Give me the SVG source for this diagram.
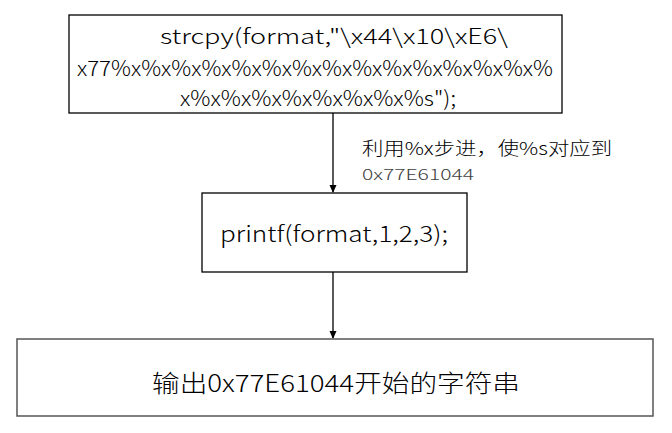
<svg xmlns="http://www.w3.org/2000/svg" width="672" height="433" viewBox="0 0 672 433">
<style>
.box{fill:#fff;stroke:#000;stroke-width:1.3}
.t{font-family:"Noto Sans CJK SC","Noto Sans",sans-serif;fill:#000;font-weight:300}
.c{stroke:#000;stroke-width:1.3;fill:none}
</style>
<defs>
<marker id="ah" markerWidth="8" markerHeight="8" refX="7" refY="4" orient="auto" markerUnits="userSpaceOnUse">
<path d="M0,0.5 L8,4 L0,7.5 Z" fill="#000"/>
</marker>
</defs>
<rect width="672" height="433" fill="#fff"/>
<g id="connectors">
<line class="c" x1="333" y1="113" x2="333" y2="192" marker-end="url(#ah)"/>
<line class="c" x1="333" y1="272" x2="333" y2="338" marker-end="url(#ah)"/>
<text class="t" x="362" y="155" font-size="18" textLength="250" lengthAdjust="spacingAndGlyphs">利用%x步进，使%s对应到</text>
<text class="t" x="362" y="180" font-size="15" style="fill:#404040" textLength="112" lengthAdjust="spacingAndGlyphs">0x77E61044</text>
</g>
<g id="node-strcpy">
<rect class="box" x="69" y="15" width="493" height="98"/>
<text class="t" x="160" y="44" font-size="21" textLength="348" lengthAdjust="spacingAndGlyphs">strcpy(format,"\x44\x10\xE6\</text>
<text class="t" x="77" y="76" font-size="21" textLength="476" lengthAdjust="spacingAndGlyphs">x77%x%x%x%x%x%x%x%x%x%x%x%x%x%x%</text>
<text class="t" x="180" y="106" font-size="21" textLength="276" lengthAdjust="spacingAndGlyphs">x%x%x%x%x%x%x%x%s");</text>
</g>
<g id="node-printf">
<rect class="box" x="202" y="193" width="265" height="79"/>
<text class="t" x="220" y="242" font-size="22" textLength="228" lengthAdjust="spacingAndGlyphs">printf(format,1,2,3);</text>
</g>
<g id="node-output">
<rect class="box" x="17" y="339" width="636" height="77" style="stroke:#555;stroke-width:1.5"/>
<text class="t" x="152" y="392" font-size="24" textLength="368" lengthAdjust="spacingAndGlyphs">输出0x77E61044开始的字符串</text>
</g>
</svg>
